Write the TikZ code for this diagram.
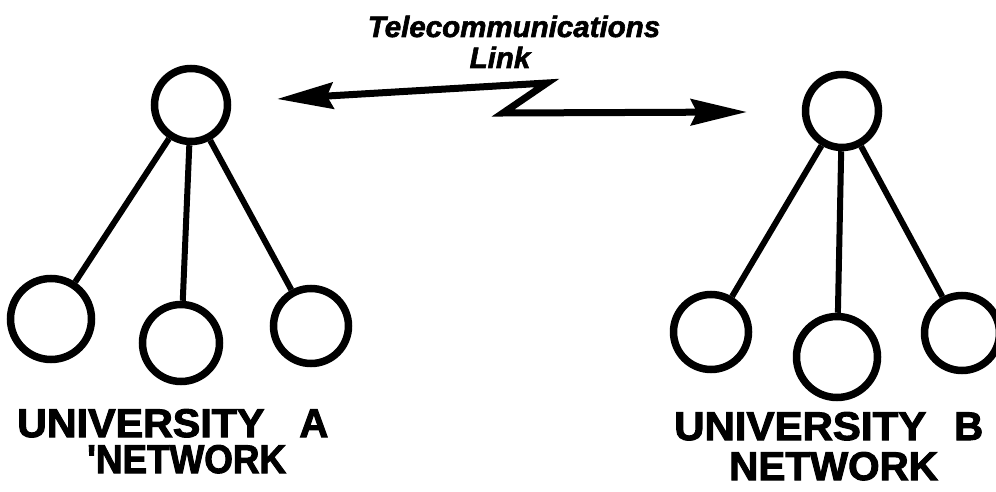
\documentclass[tikz,border=0pt]{standalone}
\usepackage{fontspec}
\setmainfont{Liberation Sans}
\newfontfamily\heavy{Liberation Sans}[BoldFeatures={FakeBold=2.5},BoldItalicFeatures={FakeBold=2}]
\usetikzlibrary{arrows.meta}
\begin{document}
\begin{tikzpicture}[x=1pt,y=-1pt,
  nd/.style={circle,draw,line width=7.5pt,inner sep=0pt},
  edge/.style={line width=6pt},
  lbl/.style={font=\heavy\fontsize{40}{36}\selectfont\bfseries,inner sep=0pt,anchor=base west,align=left},
  ttl/.style={font=\heavy\fontsize{29.5}{31}\selectfont\bfseries\itshape,inner sep=0pt,anchor=base,align=center},
  link/.style={line width=7pt,line join=miter,
    {Stealth[length=56pt,width=26pt,inset=6pt]}-{Stealth[length=56pt,width=26pt,inset=6pt]}}
  ]
\useasboundingbox (0,0) rectangle (996,492);
% University A network
\node[nd,minimum size=73pt] (at) at (191,105) {};
\node[nd,minimum size=81pt] (al) at (51,319) {};
\node[nd,minimum size=77pt] (am) at (181,343) {};
\node[nd,minimum size=75pt] (ar) at (311,326) {};
\draw[edge] (at) -- (al);
\draw[edge] (at) -- (am);
\draw[edge] (at) -- (ar);
% University B network
\node[nd,minimum size=73pt] (bt) at (842,111) {};
\node[nd,minimum size=75pt] (bl) at (711,332) {};
\node[nd,minimum size=81pt] (bm) at (837,357) {};
\node[nd,minimum size=75pt] (br) at (962,333) {};
\draw[edge] (bt) -- (bl);
\draw[edge] (bt) -- (bm);
\draw[edge] (bt) -- (br);
% telecommunications link
\coordinate (tipL) at (277,99);
\coordinate (zt) at (547,83);
\coordinate (zb) at (503,113);
\coordinate (tipR) at (747,112);
\draw[link] (tipL) -- (zt) -- (zb) -- (tipR);
\node[ttl] (t1) at (514,68) {Telecommunications\\\hspace*{-28pt}Link};
% labels
\node[lbl] (la) at (17,473) {\scalebox{1.03}[1]{UNIVERSITY}\hspace{35pt}A\\\hspace*{70pt}\scalebox{0.92}[1]{\textquotesingle NETWORK}};
\node[lbl] (lb) at (674,480) {\scalebox{1.05}[1]{UNIVERSITY}\hspace{28pt}B\\[4pt]\hspace*{55pt}\scalebox{1.01}[1]{NETWORK}};
\end{tikzpicture}
\end{document}
